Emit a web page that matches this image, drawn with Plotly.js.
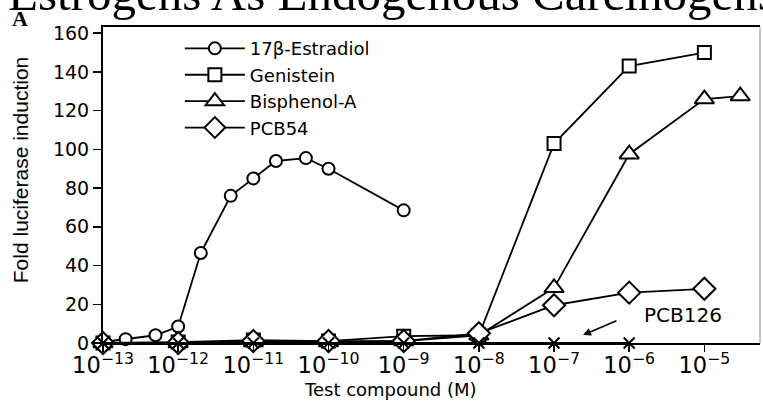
<!DOCTYPE html>
<html>
<head>
<meta charset="utf-8">
<script src="https://cdn.plot.ly/plotly-3.0.1.min.js"></script>
<style>html,body{margin:0;padding:0;background:#fff;}#chart{width:763px;height:403px;}</style>
</head>
<body>
<div id="chart"></div>
<script>
// Concentrations (M) and fold luciferase induction values
var estradiolX = [1e-13, 2e-13, 5e-13, 1e-12, 2e-12, 5e-12, 1e-11, 2e-11, 5e-11, 1e-10, 1e-9];
var estradiolY = [0.5, 2, 4, 8.5, 46.5, 76, 85, 94, 95.5, 90, 68.5];

var genisteinX = [1e-13, 1e-12, 1e-11, 1e-10, 1e-9, 1e-8, 1e-7, 1e-6, 1e-5];
var genisteinY = [0, 0.5, 1.5, 1, 3.5, 4, 103, 143, 150];

var bisphenolX = [1e-13, 1e-12, 1e-11, 1e-10, 1e-9, 1e-8, 1e-7, 1e-6, 1e-5, 3e-5];
var bisphenolY = [0, 0, 0.5, 0.5, 1, 4, 28.5, 97.5, 126, 127.5];

var pcb54X = [1e-13, 1e-12, 1e-11, 1e-10, 1e-9, 1e-8, 1e-7, 1e-6, 1e-5];
var pcb54Y = [0, 0, 1, 1, 1, 5, 19.5, 26, 28];

var pcb126X = [1e-13, 1e-12, 1e-11, 1e-10, 1e-9, 1e-8, 1e-7, 1e-6];
var pcb126Y = [0, 0, 0, 0, 0, 0, 0, 0];

var seriesNames = ['17\u03b2-Estradiol', 'Genistein', 'Bisphenol-A', 'PCB54', 'PCB126'];
var yTickVals = [0, 20, 40, 60, 80, 100, 120, 140, 160];

var sans = 'DejaVu Sans, Liberation Sans, Arial, sans-serif';
var serif = 'Liberation Serif, Times New Roman, serif';
function openMarker(sym, size) {
  return {symbol: sym, size: size, color: '#ffffff', line: {color: '#000000', width: 2}};
}
var lineStyle = {color: '#000000', width: 1.8};

var traces = [
  {x: estradiolX, y: estradiolY, name: seriesNames[0], type: 'scatter', mode: 'lines+markers',
   line: lineStyle, marker: openMarker('circle', 12), cliponaxis: false},
  {x: genisteinX, y: genisteinY, name: seriesNames[1], type: 'scatter', mode: 'lines+markers',
   line: lineStyle, marker: openMarker('square', 13), cliponaxis: false},
  {x: bisphenolX, y: bisphenolY, name: seriesNames[2], type: 'scatter', mode: 'lines+markers',
   line: lineStyle, marker: openMarker('triangle-up', 17), cliponaxis: false},
  {x: pcb54X, y: pcb54Y, name: seriesNames[3], type: 'scatter', mode: 'lines+markers',
   line: lineStyle, marker: openMarker('diamond', 17), cliponaxis: false},
  {x: pcb126X, y: pcb126Y, name: seriesNames[4], type: 'scatter', mode: 'lines+markers', showlegend: false,
   line: lineStyle, marker: {symbol: 'x-thin-open', size: 11, color: '#000000', line: {color: '#000000', width: 2}}, cliponaxis: false}
];

var layout = {
  width: 763, height: 403,
  margin: {l: 103, r: 3, t: 27, b: 60},
  paper_bgcolor: '#ffffff', plot_bgcolor: '#ffffff',
  showlegend: true,
  title: {
    text: 'Estrogens As Endogenous Carcinogens',
    font: {family: serif, size: 49, color: '#000000'},
    xref: 'container', x: 8 / 763, xanchor: 'left',
    yref: 'container', y: 1 - 10 / 403, yanchor: 'bottom'
  },
  xaxis: {
    type: 'log', range: [-13, -4.26],
    dtick: 1, exponentformat: 'power',
    showgrid: false, zeroline: false,
    showline: true, linecolor: '#000000', linewidth: 2, mirror: true,
    ticks: 'outside', ticklen: 7, tickwidth: 1.5, tickcolor: '#000000',
    ticklabelstandoff: -5,
    tickfont: {family: sans, size: 18, color: '#000000'}
  },
  yaxis: {
    range: [0, 163.2], tickvals: yTickVals,
    showgrid: false, zeroline: false,
    showline: true, linecolor: '#000000', linewidth: 2,
    ticks: 'outside', ticklen: 8, tickwidth: 1.5, tickcolor: '#000000',
    tickfont: {family: sans, size: 19, color: '#000000'}
  },
  legend: {
    x: 0.117, y: 0.99, xanchor: 'left', yanchor: 'top',
    bgcolor: 'rgba(0,0,0,0)', borderwidth: 0, itemwidth: 60,
    font: {family: sans, size: 18, color: '#000000'}
  },
  shapes: [
    {type: 'line', xref: 'paper', yref: 'paper', x0: 1, x1: 1, y0: 0, y1: 1,
     line: {color: '#8a8a8a', width: 1}}
  ],
  annotations: [
    {text: '<b>A</b>', xref: 'paper', yref: 'paper', x: -0.142, y: 1.026, xanchor: 'left', yanchor: 'middle',
     showarrow: false, font: {family: serif, size: 22, color: '#000000'}},
    {text: 'Test compound (M)', xref: 'paper', yref: 'paper', x: (390 - 103) / 657, y: (343 - 390) / 316, xanchor: 'center', yanchor: 'middle',
     showarrow: false, font: {family: sans, size: 18, color: '#000000'}},
    {text: 'Fold luciferase induction', xref: 'paper', yref: 'paper', x: -0.126, y: (343 - 170) / 316, xanchor: 'center', yanchor: 'middle',
     textangle: -90, showarrow: false, font: {family: 'Liberation Sans, Arial, sans-serif', size: 21, color: '#000000'}},
    {text: 'PCB126', xref: 'paper', yref: 'paper', x: (683 - 103) / 657, y: (343 - 315) / 316, xanchor: 'center', yanchor: 'middle',
     showarrow: false, font: {family: sans, size: 20, color: '#000000'}},
    {text: '', xref: 'paper', yref: 'paper', x: (583 - 103) / 657, y: (343 - 335) / 316,
     showarrow: true, ax: 35, ay: -15, arrowhead: 2, arrowsize: 1, arrowwidth: 1.6, arrowcolor: '#000000'}
  ]
};

Plotly.newPlot('chart', traces, layout, {displayModeBar: false, staticPlot: true});
</script>
</body>
</html>
